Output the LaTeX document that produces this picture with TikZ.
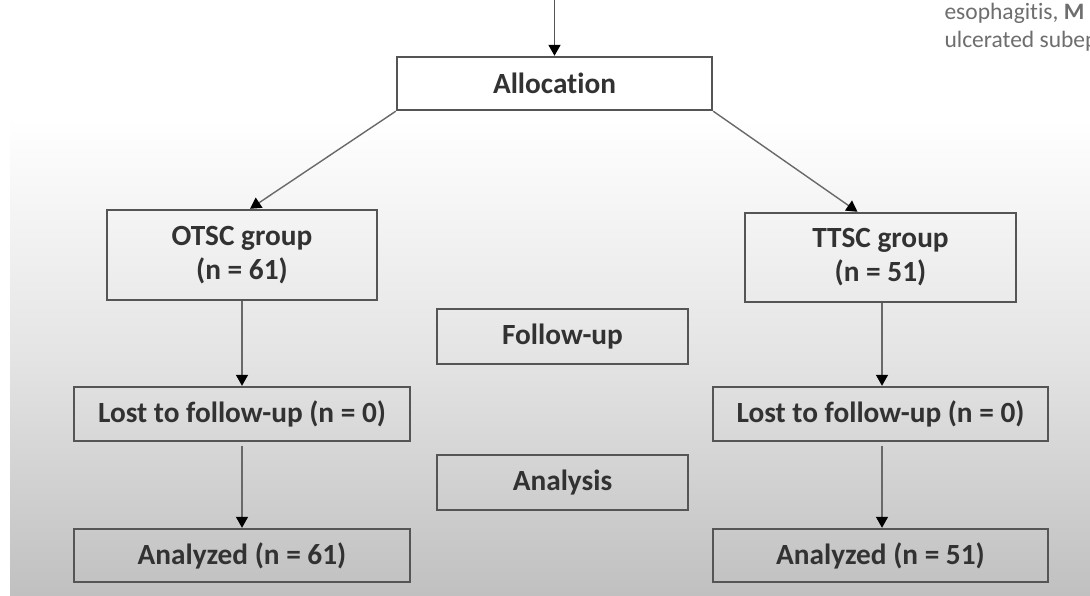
\documentclass[tikz,border=0pt]{standalone}
\usepackage{fontspec}
\setmainfont{Carlito}[Ligatures={NoCommon}]
\usetikzlibrary{arrows.meta}
\definecolor{boxline}{RGB}{85,85,85}
\definecolor{arrline}{RGB}{105,105,105}
\definecolor{txt}{RGB}{50,50,50}
\definecolor{bgbot}{RGB}{192,192,192}
\definecolor{sidetxt}{RGB}{110,110,110}
\tikzset{
  box/.style={draw=boxline, line width=2.4pt, inner sep=0pt, text=txt,
    font=\fontsize{29.3}{34}\selectfont\bfseries, align=center},
  arr/.style={draw=arrline, line width=1.4pt,
    -{Triangle[width=12pt,length=11pt,color=black]}},
}
\begin{document}
\begin{tikzpicture}[x=1pt,y=-1pt]
\useasboundingbox (0,0) rectangle (1090,596);
\clip (0,0) rectangle (1090,596);
\fill[white] (0,0) rectangle (1090,596);
\shade[top color=white, bottom color=bgbot, middle color={rgb,255:red,228;green,228;blue,228}] (10,118) rectangle (1090,596);
\node[anchor=base west, text=sidetxt, font=\fontsize{23.5}{28}\selectfont, align=left] (side) at (941,20) {esophagitis, \textbf{M}};
\node[anchor=base west, text=sidetxt, font=\fontsize{23.5}{28}\selectfont, align=left] (side2) at (941,48) {ulcerated subep};

\node[box, minimum width=315pt, minimum height=53pt] (alloc) at (554.5,83.5) {Allocation};
\node[box, minimum width=270pt, minimum height=90pt] (otsc) at (242,255) {OTSC group\\(n = 61)};
\node[box, minimum width=271pt, minimum height=89pt] (ttsc) at (880.5,257.5) {TTSC group\\(n = 51)};
\node[box, minimum width=251pt, minimum height=55pt] (follow) at (562.5,336.5) {Follow-up};
\node[box, minimum width=251pt, minimum height=55pt] (analysis) at (562.5,482.5) {Analysis};
\node[box, minimum width=336pt, minimum height=54pt] (lostl) at (242,414) {Lost to follow-up (n = 0)};
\node[box, minimum width=336pt, minimum height=53pt] (anl) at (242,555.5) {Analyzed (n = 61)};
\node[box, minimum width=335pt, minimum height=54pt] (lostr) at (880.5,414) {Lost to follow-up (n = 0)};
\node[box, minimum width=335pt, minimum height=53pt] (anr) at (880.5,555.5) {Analyzed (n = 51)};

\coordinate (topin) at (554.5,0);
\draw[arr, draw=boxline, line width=1.8pt] (topin) -- (alloc.north);
\draw[arr] (alloc.south west) -- ([xshift=8pt]otsc.north);
\draw[arr] (alloc.south east) -- ([xshift=-23pt]ttsc.north);
\draw[arr] (otsc.south) -- (lostl.north);
\draw[arr] ([yshift=-4pt]lostl.south) -- (anl.north);
\draw[arr] ([xshift=1.5pt]ttsc.south) -- ([xshift=1.5pt]lostr.north);
\draw[arr] ([xshift=1.5pt,yshift=-4pt]lostr.south) -- ([xshift=1.5pt]anr.north);
\end{tikzpicture}
\end{document}
